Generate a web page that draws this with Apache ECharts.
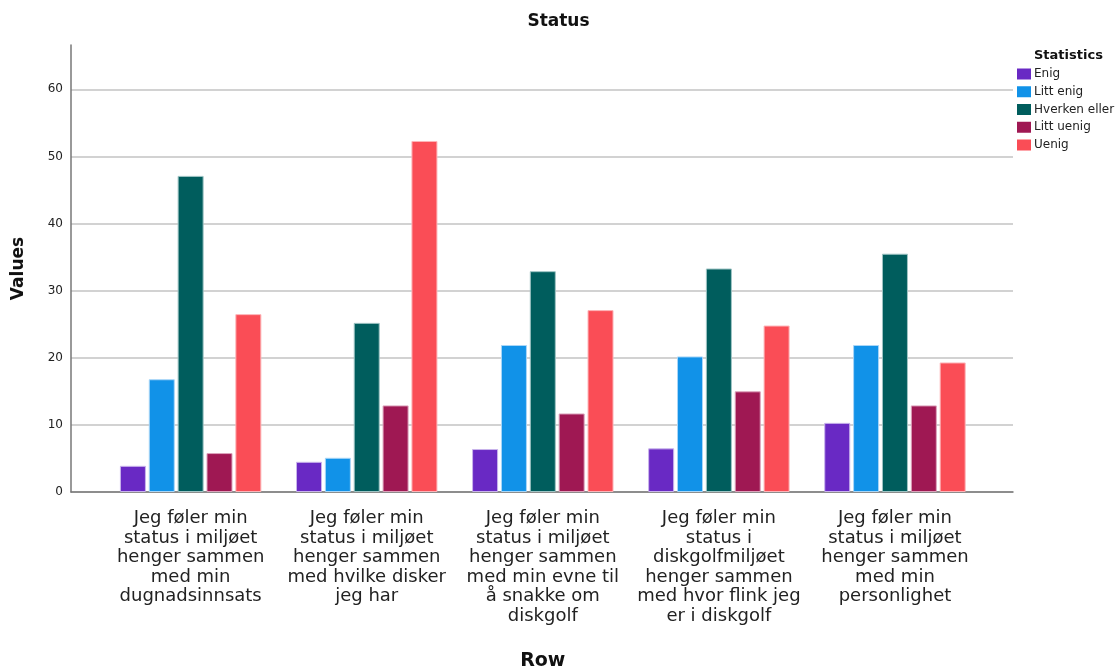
<!DOCTYPE html>
<html>
<head>
<meta charset="utf-8">
<script src="https://cdn.jsdelivr.net/npm/echarts@6/dist/echarts.min.js"></script>
<style>
  html, body { margin: 0; padding: 0; background: #fff; }
  #chart { width: 1117px; height: 668px; }
</style>
</head>
<body>
<div id="chart"></div>
<script>
// Statement categories (wrapped the way they appear under the axis)
const categories = [
  'Jeg føler min\nstatus i miljøet\nhenger sammen\nmed min\ndugnadsinnsats',
  'Jeg føler min\nstatus i miljøet\nhenger sammen\nmed hvilke disker\njeg har',
  'Jeg føler min\nstatus i miljøet\nhenger sammen\nmed min evne til\nå snakke om\ndiskgolf',
  'Jeg føler min\nstatus i\ndiskgolfmiljøet\nhenger sammen\nmed hvor flink jeg\ner i diskgolf',
  'Jeg føler min\nstatus i miljøet\nhenger sammen\nmed min\npersonlighet'
];

// Percentages per answer option
const enig = [3.9, 4.5, 6.4, 6.5, 10.3];
const littEnig = [16.8, 5.1, 21.9, 20.2, 21.9];
const hverkenEller = [47.1, 25.2, 32.9, 33.3, 35.5];
const littUenig = [5.8, 12.9, 11.7, 15.0, 12.9];
const uenig = [26.5, 52.3, 27.1, 24.8, 19.3];

const seriesNames = ['Enig', 'Litt enig', 'Hverken eller', 'Litt uenig', 'Uenig'];
const seriesValues = [enig, littEnig, hverkenEller, littUenig, uenig];
const palette = ['#6929c4', '#1192e8', '#005d5d', '#9f1853', '#fa4d56'];
const borderTints = ['#c9b4ec', '#a9d6f7', '#9fc4c4', '#dca3bb', '#fdb4b8'];

const yTicks = [0, 10, 20, 30, 40, 50, 60];
const yMax = 66.6;

const FONT = '"DejaVu Sans", "Liberation Sans", sans-serif';

const chart = echarts.init(document.getElementById('chart'));

chart.setOption({
  animation: false,
  backgroundColor: '#ffffff',
  color: palette,
  textStyle: { fontFamily: FONT },
  title: [
    {
      text: 'Status',
      left: 'center',
      top: 8,
      textStyle: { fontFamily: FONT, fontSize: 17, fontWeight: 'bold', color: '#111' }
    },
    {
      text: 'Statistics',
      left: 1029,
      top: 44,
      textStyle: { fontFamily: FONT, fontSize: 13, fontWeight: 'bold', color: '#111' }
    }
  ],
  legend: {
    orient: 'vertical',
    left: 1017,
    top: 68,
    padding: 0,
    itemWidth: 14,
    itemHeight: 11,
    itemGap: 5.75,
    icon: 'rect',
    itemStyle: { borderWidth: 0 },
    textStyle: { fontFamily: FONT, fontSize: 12, color: '#222', padding: [0, 0, 0, -2] },
    data: seriesNames
  },
  grid: [
    // frame: value axis, gridlines and the baseline across the full plot width
    { left: 71, right: 104, top: 45, bottom: 176, containLabel: false, outerBoundsMode: 'none' },
    // inner band where the bar groups sit
    { left: 102.6, right: 134, top: 45, bottom: 176, containLabel: false, outerBoundsMode: 'none' }
  ],
  xAxis: [
    {
      gridIndex: 0,
      type: 'category',
      data: categories,
      axisLine: { show: true, lineStyle: { color: '#777', width: 1.5 } },
      axisTick: { show: false },
      axisLabel: { show: false },
      splitLine: { show: false }
    },
    {
      gridIndex: 1,
      type: 'category',
      data: categories,
      name: 'Row',
      nameLocation: 'middle',
      nameGap: 160,
      nameTextStyle: { fontFamily: FONT, fontSize: 19, fontWeight: 'bold', color: '#111' },
      axisLine: { show: false },
      axisTick: { show: false },
      axisLabel: {
        interval: 0,
        fontFamily: FONT,
        fontSize: 18,
        lineHeight: 19.5,
        color: '#222',
        margin: 17
      }
    }
  ],
  yAxis: [
    {
      gridIndex: 0,
      type: 'value',
      min: 0,
      max: yMax,
      interval: 10,
      name: 'Values',
      nameLocation: 'middle',
      nameGap: 44,
      nameTextStyle: { fontFamily: FONT, fontSize: 17, fontWeight: 'bold', color: '#111' },
      axisLine: { show: true, lineStyle: { color: '#777', width: 1.5 } },
      axisTick: { show: false },
      axisLabel: {
        fontFamily: FONT,
        fontSize: 12,
        color: '#222',
        margin: 8,
        showMaxLabel: false,
        formatter: v => (yTicks.indexOf(v) >= 0 ? String(v) : '')
      },
      splitLine: {
        show: true,
        showMaxLine: false,
        lineStyle: { color: '#d2d2d2', width: 2 }
      }
    },
    {
      gridIndex: 1,
      type: 'value',
      min: 0,
      max: yMax,
      interval: 10,
      show: false,
      splitLine: { show: false }
    }
  ],
  series: seriesNames.map((name, i) => ({
    name: name,
    type: 'bar',
    xAxisIndex: 1,
    yAxisIndex: 1,
    data: seriesValues[i],
    barWidth: 26,
    barGap: '11%',
    itemStyle: {
      color: palette[i],
      borderColor: borderTints[i],
      borderWidth: 1
    }
  }))
});
</script>
</body>
</html>
